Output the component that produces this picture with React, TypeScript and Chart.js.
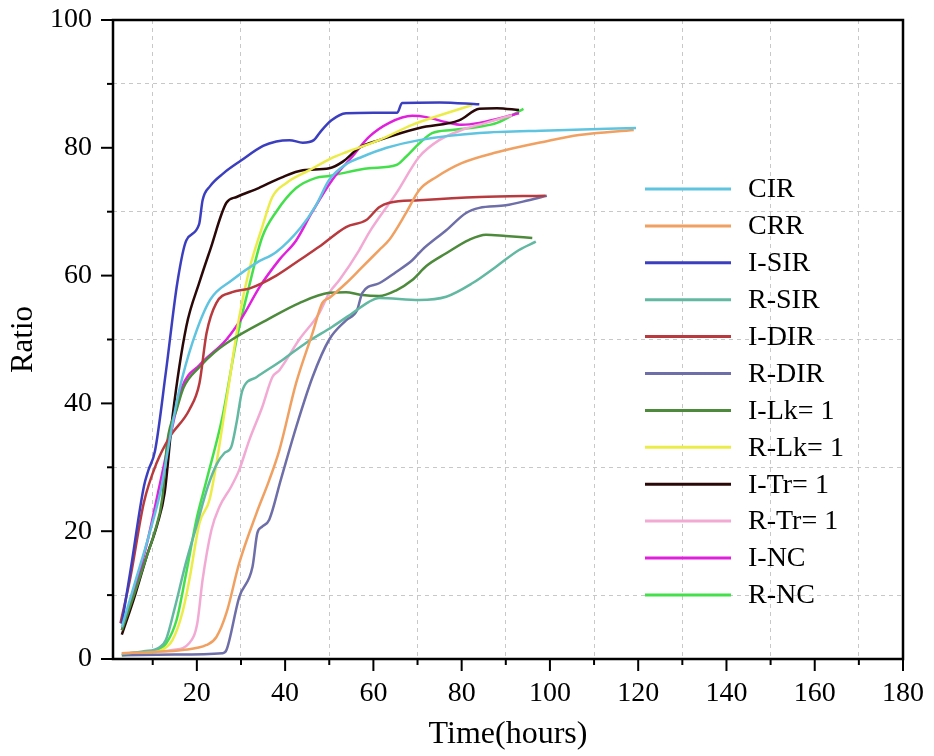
import React, { useEffect, useRef } from 'react';
import { Chart, registerables } from 'chart.js';

Chart.register(...registerables);

// ---- data (x = time in hours, y = ratio) ----
const SERIES_LABELS = ['CIR', 'CRR', 'I-SIR', 'R-SIR', 'I-DIR', 'R-DIR', 'I-Lk= 1', 'R-Lk= 1', 'I-Tr= 1', 'R-Tr= 1', 'I-NC', 'R-NC'];
const SERIES_COLORS = ['#5ec4e0', '#f0a060', '#3b3fbf', '#62b8a0', '#b83a3e', '#6e6ea8', '#4d8a3c', '#ecec48', '#2a0808', '#f2aad4', '#e020dc', '#44e04c'];

const CIR = [[3, 5], [6, 12], [9, 19], [12, 27], [14, 35], [16, 42], [19, 49.5], [23, 56.2], [28, 59.3], [33.5, 62], [38, 63.7], [43.5, 67.5], [47, 71], [50, 75], [54, 77.5], [57.5, 78.6], [63, 80], [70.4, 81.2], [84, 82.3], [100, 82.7], [119.5, 83.1]];
const CRR = [[3, 0.9], [10, 1.1], [16.7, 1.4], [22.2, 2.2], [24.4, 3.4], [26.7, 7.2], [29.6, 15], [33.5, 22.8], [36.4, 28], [38.7, 32.7], [42.5, 43.2], [46.2, 51], [48.4, 55.7], [50, 56.5], [53.8, 58.8], [57, 61], [61.3, 64], [63.6, 65.6], [67.4, 69.8], [70.4, 73.4], [74.2, 75.4], [80, 77.6], [88, 79.3], [99, 81], [106.6, 82], [119, 82.8]];
const I_SIR = [[3, 5.5], [5, 14], [8, 27], [9, 29.5], [10.5, 32.5], [13, 45], [15.6, 59], [17.6, 65.5], [20.5, 68], [21.3, 71.8], [23, 74], [26, 76], [30, 78], [35, 80.3], [38, 81], [41, 81.2], [44, 80.8], [46.5, 81.2], [48, 82.5], [50.5, 84.3], [53.8, 85.4], [60, 85.5], [65.4, 85.5], [66.5, 87], [75, 87.1], [84, 86.8]];
const R_SIR = [[3, 0.8], [8, 1.2], [11.5, 1.8], [13, 3], [15, 8], [17.5, 15], [20, 21], [22.5, 27], [24.5, 30.5], [26.2, 32.2], [27.8, 33.2], [29, 37], [30.3, 42], [33.5, 44.1], [39.4, 46.8], [44.8, 49.5], [50.7, 52], [55, 54], [59, 55.9], [61.3, 56.5], [70.4, 56.2], [76.5, 56.7], [82.4, 58.8], [87.8, 61.4], [93, 64], [96.8, 65.3]];
const I_DIR = [[2.7, 5.6], [5, 13], [8, 24.5], [10.9, 30.7], [13.8, 34.7], [18.3, 39], [20.6, 43.2], [22.2, 51], [24.4, 55.7], [28, 57.4], [32, 58], [38, 60], [43.2, 62.4], [47.7, 64.5], [53.8, 67.6], [58.4, 68.7], [61.3, 70.7], [63.6, 71.4], [70.4, 71.8], [84, 72.3], [99, 72.5]];
const R_DIR = [[3, 0.6], [15, 0.7], [25.8, 0.9], [26.7, 1.4], [29.6, 9.7], [32.6, 14.4], [33.7, 19.7], [34.8, 20.7], [36.4, 21.8], [39, 28], [42.5, 36.3], [46.2, 44.1], [50, 50], [53.8, 53], [56.3, 54.6], [57.5, 57.3], [61.3, 58.8], [65, 60.5], [68.8, 62.4], [71, 64], [76.5, 67.1], [81, 69.8], [84, 70.6], [90, 71], [95.2, 71.8], [99.3, 72.5]];
const I_LK = [[3, 4.5], [6, 10.5], [8.6, 16], [10.5, 20], [12.2, 25.3], [13.3, 34], [15.4, 39], [17, 42.5], [20.6, 45.7], [24, 48], [28, 50], [35.7, 53], [43.2, 55.7], [50, 57.3], [53.8, 57.4], [57, 57], [61.3, 56.8], [65.2, 57.7], [68.8, 59.3], [72, 61.5], [76.5, 63.5], [81.7, 65.6], [85.5, 66.4], [90, 66.2], [96, 65.9]];
const R_LK = [[3, 0.6], [8, 0.9], [12, 1.4], [14.5, 3], [16.7, 7.2], [18.3, 12.4], [20.6, 21.3], [22.9, 25], [26.7, 40.5], [29.6, 53.5], [31.9, 61], [34.8, 67.6], [37.1, 72.3], [40.3, 74.5], [45.5, 76.5], [50, 78.2], [53.8, 79.3], [61.3, 81.2], [68.8, 83.6], [76.5, 85.4], [82.4, 86.7]];
const I_TR = [[3, 3.8], [6, 10], [8.6, 16], [11, 21], [12.7, 26], [14.5, 38], [17.6, 52], [20.6, 59], [23, 64], [26.7, 71.4], [29, 72.3], [34, 73.7], [39, 75.3], [44, 76.5], [50, 76.8], [53, 77.8], [56.8, 80], [61.3, 81.2], [70.4, 83.1], [79.4, 84.3], [84, 86.1], [88, 86.2], [93, 85.9]];
const R_TR = [[3, 0.9], [10, 1.1], [14.5, 1.4], [18.3, 2.5], [20.1, 5.6], [21.3, 12.4], [23.3, 20.2], [25.1, 23.8], [27.8, 27], [29.6, 29.6], [31.9, 34.3], [34.8, 39.4], [37.1, 44.1], [38.7, 45.2], [43.2, 50], [47.7, 54.1], [50, 57.3], [52.3, 59.3], [56.8, 64], [59, 66.7], [65.2, 72.9], [70.4, 78.6], [74.9, 81.2], [80.1, 82.8], [85.5, 83.9], [91.4, 85.1]];
const I_NC = [[3, 4.5], [6, 11], [9, 19], [11.5, 27], [13.8, 34.3], [16.7, 42.6], [20.6, 46], [26.7, 50], [30.3, 53.5], [34.2, 58.2], [38.7, 62.5], [42.5, 65.5], [46, 69.8], [50.7, 75], [55.2, 78.6], [59, 81.7], [63.6, 83.9], [68.8, 85], [72, 84.8], [76.5, 84], [80, 83.6], [84, 83.9], [93, 85.4]];
const R_NC = [[3, 0.6], [8, 1], [10.9, 1.4], [13.1, 2.5], [15.4, 6.1], [17.6, 13.5], [19.9, 21.8], [22.2, 28], [25.8, 37.9], [29, 50], [31.9, 58.5], [34.8, 66], [38, 70], [42.5, 73.7], [47, 75.3], [50, 75.6], [59, 76.8], [65.2, 77.3], [67.4, 78.6], [70.4, 80.7], [73.3, 82.3], [77.8, 82.8], [84, 83.3], [88, 83.9], [94, 86.1]];

const SERIES_DATA = [CIR, CRR, I_SIR, R_SIR, I_DIR, R_DIR, I_LK, R_LK, I_TR, R_TR, I_NC, R_NC];

const X_TICKS = [10, 20, 30, 40, 50, 60, 70, 80, 90, 100, 110, 120, 130, 140, 150, 160, 170, 180];
const Y_TICKS = [0, 10, 20, 30, 40, 50, 60, 70, 80, 90, 100];
const X_TITLE = 'Time(hours)';
const Y_TITLE = 'Ratio';

const FONT_FAMILY = "'Liberation Serif', 'Times New Roman', serif";

const frameAndTicks = {
  id: 'frameAndTicks',
  afterDatasetsDraw(chart: any) {
    const { ctx, chartArea: a, scales } = chart;
    const xs = scales.x;
    const ys = scales.y;
    ctx.save();
    ctx.strokeStyle = '#000';
    ctx.lineWidth = 2.5;
    ctx.strokeRect(a.left, a.top, a.right - a.left, a.bottom - a.top);
    ctx.lineWidth = 2;
    X_TICKS.forEach((v) => {
      const px = xs.getPixelForValue(v);
      const len = v % 20 === 0 ? 12 : 6;
      ctx.beginPath();
      ctx.moveTo(px, a.bottom);
      ctx.lineTo(px, a.bottom + len);
      ctx.stroke();
    });
    Y_TICKS.forEach((v) => {
      const py = ys.getPixelForValue(v);
      const len = v % 20 === 0 ? 12 : 6;
      ctx.beginPath();
      ctx.moveTo(a.left, py);
      ctx.lineTo(a.left - len, py);
      ctx.stroke();
    });
    ctx.restore();
  },
};

const innerLegend = {
  id: 'innerLegend',
  afterDatasetsDraw(chart: any) {
    const { ctx } = chart;
    const x0 = 645;
    const x1 = 731;
    const tx = 748;
    const y0 = 189;
    const step = 36.9;
    ctx.save();
    ctx.font = `28px ${FONT_FAMILY}`;
    ctx.textBaseline = 'middle';
    ctx.textAlign = 'left';
    chart.data.datasets.forEach((ds: any, i: number) => {
      const y = y0 + i * step;
      ctx.strokeStyle = ds.borderColor;
      ctx.lineWidth = 3;
      ctx.beginPath();
      ctx.moveTo(x0, y);
      ctx.lineTo(x1, y);
      ctx.stroke();
      ctx.fillStyle = '#000';
      ctx.fillText(ds.label, tx, y + 1);
    });
    ctx.restore();
  },
};

export default function App() {
  const ref = useRef<HTMLCanvasElement>(null);

  useEffect(() => {
    const canvas = ref.current;
    if (!canvas) return;
    const chart = new Chart(canvas, {
      type: 'line',
      data: {
        datasets: SERIES_LABELS.map((label, i) => ({
          label,
          data: SERIES_DATA[i].map(([x, y]) => ({ x, y })),
          borderColor: SERIES_COLORS[i],
          backgroundColor: SERIES_COLORS[i],
          borderWidth: 2.5,
          pointRadius: 0,
          fill: false,
          cubicInterpolationMode: 'monotone' as const,
        })),
      },
      options: {
        animation: false,
        responsive: false,
        devicePixelRatio: 1,
        layout: { padding: { top: 20, right: 31, left: 0, bottom: 0 } },
        plugins: {
          legend: { display: false },
          tooltip: { enabled: false },
        },
        scales: {
          x: {
            type: 'linear',
            min: 1,
            max: 180,
            afterBuildTicks: (s: any) => {
              s.ticks = X_TICKS.map((v) => ({ value: v }));
            },
            afterFit: (s: any) => {
              s.height = 97;
              s.paddingLeft = 0;
              s.paddingRight = 0;
              s.paddingTop = 0;
              s.paddingBottom = 0;
            },
            ticks: {
              autoSkip: false,
              maxRotation: 0,
              padding: 18,
              color: '#000',
              font: { family: FONT_FAMILY, size: 28 },
              callback: (v: any) => (Number(v) % 20 === 0 ? String(v) : ''),
            },
            grid: {
              drawTicks: false,
              lineWidth: 1,
              color: (c: any) => (c.tick && c.tick.value % 20 === 10 ? '#c8c8c8' : 'rgba(0,0,0,0)'),
            },
            border: { display: false, dash: [4, 4] },
            title: {
              display: true,
              text: X_TITLE,
              color: '#000',
              font: { family: FONT_FAMILY, size: 32 },
              padding: { top: 0, bottom: 2 },
            },
          },
          y: {
            type: 'linear',
            min: 0,
            max: 100,
            afterBuildTicks: (s: any) => {
              s.ticks = Y_TICKS.map((v) => ({ value: v }));
            },
            afterFit: (s: any) => {
              s.width = 113;
              s.paddingLeft = 0;
              s.paddingRight = 0;
              s.paddingTop = 0;
              s.paddingBottom = 0;
            },
            ticks: {
              autoSkip: false,
              padding: 21,
              color: '#000',
              font: { family: FONT_FAMILY, size: 28 },
              callback: (v: any) => (Number(v) % 20 === 0 ? String(v) : ''),
            },
            grid: {
              drawTicks: false,
              lineWidth: 1,
              color: (c: any) => (c.tick && c.tick.value % 20 === 10 ? '#c8c8c8' : 'rgba(0,0,0,0)'),
            },
            border: { display: false, dash: [4, 4] },
            title: {
              display: true,
              text: Y_TITLE,
              color: '#000',
              font: { family: FONT_FAMILY, size: 31 },
              padding: { top: 5, bottom: 0 },
            },
          },
        },
      },
      plugins: [frameAndTicks, innerLegend],
    });
    return () => chart.destroy();
  }, []);

  return (
    <div style={{ position: 'absolute', left: 0, top: 0, width: 934, height: 756, background: '#fff' }}>
      <canvas ref={ref} width={934} height={756} style={{ display: 'block' }} />
    </div>
  );
}
